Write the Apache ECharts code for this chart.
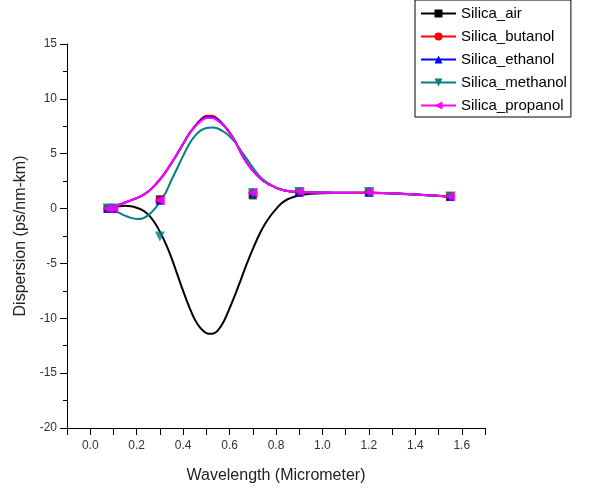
<!DOCTYPE html>
<html>
<head>
<meta charset="utf-8">
<script src="https://cdn.jsdelivr.net/npm/echarts@6/dist/echarts.min.js"></script>
<style>html,body{margin:0;padding:0;background:#fff}#c{width:592px;height:493px}</style>
</head>
<body>
<div id="c"></div>
<script>
const seriesNames = ['Silica_air','Silica_butanol','Silica_ethanol','Silica_methanol','Silica_propanol'];
const xTickLabels = ['0.0','0.2','0.4','0.6','0.8','1.0','1.2','1.4','1.6'];
const yTickLabels = ['-20','-15','-10','-5','0','5','10','15'];

// measured points (markers)
const markerX = [0.075, 0.1, 0.3, 0.7, 0.9, 1.2, 1.55];
const airPts      = [0, 0, 0.85, 1.2, 1.45, 1.45, 1.1];
const butanolPts  = [0, 0, 0.75, 1.45, 1.5, 1.5, 1.1];
const ethanolPts  = [0, 0, 0.75, 1.45, 1.5, 1.5, 1.1];
const methanolPts = [0, 0, -2.55, 1.4, 1.5, 1.5, 1.1];
const propanolPts = [0, 0, 0.75, 1.45, 1.55, 1.5, 1.1];

// fitted curves
const curveX = [0.075,0.1,0.125,0.15,0.175,0.2,0.225,0.25,0.275,0.3,0.325,0.35,0.375,0.4,0.425,0.45,0.475,0.5,0.525,0.55,0.575,0.6,0.625,0.65,0.675,0.7,0.725,0.75,0.775,0.8,0.825,0.85,0.875,0.9,0.95,1.05,1.2,1.55];
const airCurve      = [0,0.1,0.2,0.25,0.22,0.08,-0.15,-0.55,-1.2,-2.1,-3.2,-4.5,-6.0,-7.5,-8.9,-10.1,-10.9,-11.35,-11.42,-11.1,-10.3,-9.1,-7.8,-6.4,-5.0,-3.7,-2.5,-1.5,-0.7,-0.05,0.5,0.85,1.05,1.2,1.35,1.42,1.42,1.08];
const butanolCurve  = [0,0.15,0.35,0.55,0.75,0.95,1.2,1.55,2.05,2.65,3.35,4.15,5.0,5.9,6.8,7.5,8.1,8.45,8.45,8.15,7.6,6.95,6.1,5.05,4.15,3.45,2.9,2.45,2.15,1.9,1.72,1.6,1.53,1.5,1.47,1.45,1.45,1.1];
const ethanolCurve  = [0,0.15,0.35,0.55,0.75,0.95,1.2,1.55,2.05,2.65,3.35,4.15,5.0,5.9,6.78,7.47,8.05,8.35,8.35,8.1,7.57,6.92,6.1,5.05,4.15,3.45,2.9,2.45,2.15,1.9,1.72,1.6,1.53,1.5,1.47,1.45,1.45,1.1];
const methanolCurve = [0,-0.15,-0.4,-0.65,-0.85,-0.95,-0.9,-0.6,-0.1,0.6,1.45,2.6,3.7,4.8,5.85,6.6,7.1,7.35,7.4,7.3,7.0,6.6,6.0,5.25,4.5,3.75,3.05,2.55,2.2,1.9,1.72,1.6,1.53,1.5,1.47,1.45,1.45,1.1];
const propanolCurve = [0,0.15,0.35,0.55,0.75,0.95,1.2,1.55,2.05,2.65,3.35,4.15,5.0,5.9,6.75,7.45,7.95,8.25,8.25,8.0,7.55,6.9,6.1,5.05,4.15,3.45,2.9,2.45,2.15,1.9,1.72,1.6,1.53,1.5,1.47,1.45,1.45,1.1];

const colors = ['#000000','#ff0000','#0000ff','#008080','#ff00ff'];
const symbols = ['rect','circle','triangle','triangle','triangle'];
const rotates = [0,0,0,180,90];
const sizes = [8,9,9,10,10];
const pts = [airPts,butanolPts,ethanolPts,methanolPts,propanolPts];
const curves = [airCurve,butanolCurve,ethanolCurve,methanolCurve,propanolCurve];

const zip = (xs, ys) => xs.map((x,i)=>[x, ys[i]]);

const series = [];
seriesNames.forEach((n,i)=>{
  series.push({
    name:n, type:'line', smooth:0.3, data: zip(curveX, curves[i]),
    symbol: symbols[i], symbolRotate: rotates[i], symbolSize: sizes[i], showSymbol:false,
    lineStyle:{color:colors[i], width:2}, itemStyle:{color:colors[i]},
    z:2, silent:true, animation:false
  });
});
seriesNames.forEach((n,i)=>{
  series.push({
    name:n, type:'scatter', data: zip(markerX, pts[i]),
    symbol: symbols[i], symbolRotate: rotates[i], symbolSize: sizes[i],
    itemStyle:{color:colors[i]}, z:3, silent:true, animation:false
  });
});

const chart = echarts.init(document.getElementById('c'), null, {renderer:'canvas'});
chart.setOption({
  animation:false,
  backgroundColor:'#fff',
  grid:{left:67, top:44, right:107, bottom:65, containLabel:false},
  legend:{
    data: seriesNames,
    orient:'vertical', left:415, top:0,
    borderColor:'#000', borderWidth:1, padding:[6,4,4,5],
    itemWidth:35, itemHeight:10, itemGap:8,
    textStyle:{fontFamily:'Liberation Sans, Arial', fontSize:15, color:'#000', lineHeight:15},
    selectedMode:false
  },
  xAxis:{
    type:'value', min:-0.1, max:1.7, interval:0.1,
    name:'Wavelength (Micrometer)', nameLocation:'middle', nameGap:40,
    nameTextStyle:{fontFamily:'Liberation Sans, Arial', fontSize:16, color:'#222'},
    axisLine:{show:true, onZero:false, lineStyle:{color:'#000', width:1}},
    axisTick:{show:true, inside:false, length:7, lineStyle:{color:'#000'}},
    axisLabel:{fontFamily:'Liberation Sans, Arial', fontSize:12, color:'#333', margin:12,
      formatter:(v)=>{ const s=(Math.round(v*10)/10).toFixed(1); return xTickLabels.indexOf(s)>=0 && Math.round(v*10)%2===0 ? s : ''; }},
    splitLine:{show:false}
  },
  yAxis:{
    type:'value', min:-20, max:15, interval:5,
    name:'Dispersion (ps/nm-km)', nameLocation:'middle', nameGap:38,
    nameTextStyle:{fontFamily:'Liberation Sans, Arial', fontSize:16, color:'#222'},
    axisLine:{show:true, onZero:false, lineStyle:{color:'#000', width:1}},
    axisTick:{show:true, inside:false, length:7, lineStyle:{color:'#000'}},
    minorTick:{show:true, splitNumber:2, length:4, lineStyle:{color:'#000'}},
    axisLabel:{fontFamily:'Liberation Sans, Arial', fontSize:12, color:'#333', margin:10,
      formatter:(v)=>{ const s=String(Math.round(v)); return yTickLabels.indexOf(s)>=0 ? s : ''; }},
    splitLine:{show:false}
  },
  series: series
});
</script>
</body>
</html>
